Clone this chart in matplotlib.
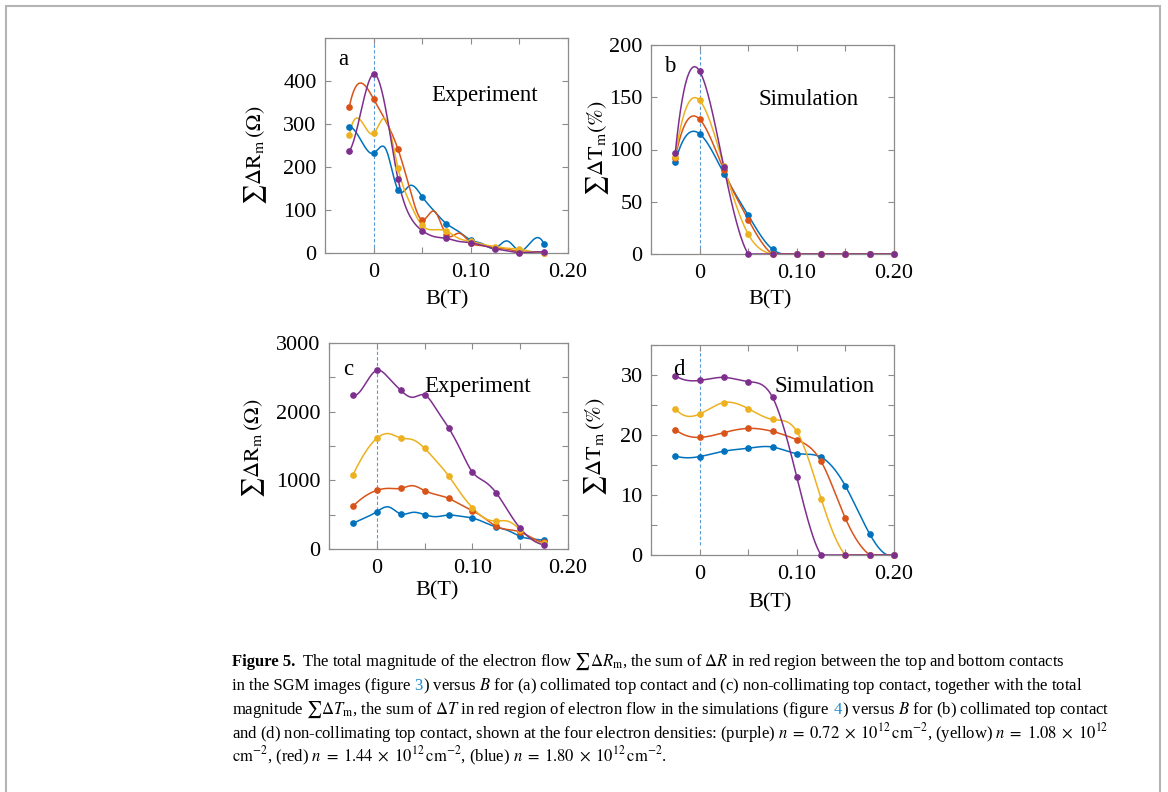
import numpy as np
import matplotlib
matplotlib.use("Agg")
import matplotlib.pyplot as plt
from matplotlib.patches import Rectangle

plt.rcParams['font.family'] = ['Liberation Serif', 'DejaVu Serif']
plt.rcParams['mathtext.fontset'] = 'stix'

# ---------------- data ----------------
# Experiment panels: curve samples every 0.0125 T, markers on every 2nd sample
B_exp = [-0.025, -0.0125, 0.0, 0.0125, 0.025, 0.0375, 0.05, 0.0625, 0.075,
         0.0875, 0.1, 0.1125, 0.125, 0.1375, 0.15, 0.1625, 0.175]

a_blue   = [293, 260, 232, 242, 147, 157, 131, 97, 68, 50, 30, 21, 11, 28, 5, 27, 22]
a_red    = [340, 395, 358, 307, 242, 147, 77, 97, 42, 46, 24, 17, 12, 9, 3, 2, 1]
a_yellow = [274, 306, 278, 311, 198, 116, 64, 54, 51, 34, 27, 20, 15, 11, 9, 3, 0]
a_purple = [237, 334, 416, 334, 173, 85, 52, 38, 34, 27, 24, 17, 10, 5, 1, 2, 2]

c_blue   = [374, 451, 544, 612, 510, 534, 500, 471, 495, 476, 451, 388, 320, 267, 184, 146, 126]
c_red    = [621, 767, 854, 883, 883, 922, 850, 791, 738, 646, 558, 451, 330, 282, 248, 160, 97]
c_yellow = [1078, 1398, 1612, 1680, 1617, 1592, 1466, 1277, 1068, 816, 602, 451, 408, 403, 282, 136, 87]
c_purple = [2238, 2393, 2602, 2490, 2311, 2209, 2243, 2029, 1767, 1447, 1121, 985, 816, 549, 301, 136, 58]

# Simulation panels
B_sim = [-0.025, 0.0, 0.025, 0.05, 0.075, 0.1, 0.125, 0.15, 0.175, 0.2]

b_blue   = [88, 115, 77, 37, 4.5, 0, 0, 0, 0, 0]
b_red    = [92, 129, 80, 33, 0, 0, 0, 0, 0, 0]
b_yellow = [93, 147, 84, 19, 0, 0, 0, 0, 0, 0]
b_purple = [97, 175, 83, 0, 0, 0, 0, 0, 0, 0]

d_blue   = [16.5, 16.4, 17.3, 17.8, 18.0, 16.9, 16.3, 11.5, 3.5, 0]
d_red    = [20.9, 19.6, 20.4, 21.1, 20.6, 19.2, 15.6, 6.1, 0, 0]
d_yellow = [24.4, 23.5, 25.4, 24.4, 22.6, 20.6, 9.4, 0, 0, 0]
d_purple = [29.9, 29.1, 29.6, 28.9, 26.3, 13.0, 0, 0, 0, 0]

colors = {'blue': '#0072BD', 'red': '#D95319', 'yellow': '#EDB120', 'purple': '#7E2F8E'}

xtick_vals = [-0.05, 0.0, 0.05, 0.10, 0.15, 0.20]
xtick_labs = ['', '0', '', '0.10', '', '0.20']


def spline(x, y, n=500):
    """not-a-knot cubic spline (as MATLAB spline) used for the smooth lines"""
    x = np.asarray(x, float); y = np.asarray(y, float)
    N = len(x); h = np.diff(x); d = np.diff(y) / h
    A = np.zeros((N, N)); r = np.zeros(N)
    for i in range(1, N - 1):
        A[i, i - 1] = h[i]; A[i, i] = 2 * (h[i - 1] + h[i]); A[i, i + 1] = h[i - 1]
        r[i] = 3 * (h[i] * d[i - 1] + h[i - 1] * d[i])
    dd = x[2] - x[0]
    A[0, 0] = h[1]; A[0, 1] = dd
    r[0] = ((h[0] + 2 * dd) * h[1] * d[0] + h[0] ** 2 * d[1]) / dd
    dd = x[-1] - x[-3]
    A[-1, -2] = dd; A[-1, -1] = h[-2]
    r[-1] = (h[-1] ** 2 * d[-2] + (2 * dd + h[-1]) * h[-2] * d[-1]) / dd
    s = np.linalg.solve(A, r)
    t = np.linspace(x[0], x[-1], n)
    idx = np.clip(np.searchsorted(x, t) - 1, 0, N - 2)
    hh = h[idx]; u = (t - x[idx]) / hh
    v = (y[idx] * (2 * u**3 - 3 * u**2 + 1) + hh * s[idx] * (u**3 - 2 * u**2 + u)
         + y[idx + 1] * (-2 * u**3 + 3 * u**2) + hh * s[idx + 1] * (u**3 - u**2))
    return t, v


W, H = 1168, 792
fig = plt.figure(figsize=(W / 100, H / 100), dpi=100)


def px_axes(l, r, t, b):
    return fig.add_axes([l / W, 1 - b / H, (r - l) / W, (b - t) / H])


def style(ax, ylim, yticks, ylabs, dash_ymin=0.0):
    ax.set_xlim(-0.05, 0.2)
    ax.set_ylim(*ylim)
    ax.set_xticks(xtick_vals); ax.set_xticklabels(xtick_labs)
    ax.set_yticks(yticks); ax.set_yticklabels(ylabs)
    for sp in ax.spines.values():
        sp.set_color('#8c8c8c'); sp.set_linewidth(0.9)
    ax.tick_params(direction='in', length=4, width=0.8, colors='#8c8c8c',
                   labelcolor='black', top=True, right=True, labelsize=16)
    ax.tick_params(axis='y', pad=6)
    ax.tick_params(axis='x', pad=7)
    ax.axvline(0, ymin=dash_ymin, color='#5b9bd5', lw=0.8, ls=(0, (3, 2)), zorder=1)


def draw(ax, x, series, every, flat_tail=False):
    x = np.asarray(x, float)
    for key, y in series:
        y = np.asarray(y, float)
        t, v = spline(x, y)
        if flat_tail:
            nz = np.nonzero(y)[0]
            k = nz[-1] + 1 if len(nz) else 0
            if k < len(y):
                v = np.where(t >= x[k], 0.0, v)
        ax.plot(t, v, color=colors[key], lw=1.1, zorder=3)
        ax.plot(x[::every], y[::every], 'o', color=colors[key], ms=3.8, zorder=4,
                clip_on=False)


# panel a
ax_a = px_axes(325, 568, 38, 253)
style(ax_a, (0, 500), [0, 100, 200, 300, 400, 500], ['0', '100', '200', '300', '400', ''])
draw(ax_a, B_exp, [('blue', a_blue), ('red', a_red), ('yellow', a_yellow), ('purple', a_purple)], 2)

# panel b
ax_b = px_axes(651, 894, 45, 254)
style(ax_b, (0, 200), [0, 50, 100, 150, 200], ['0', '50', '100', '150', '200'])
draw(ax_b, B_sim, [('blue', b_blue), ('red', b_red), ('yellow', b_yellow), ('purple', b_purple)], 1,
     flat_tail=True)

# panel c
ax_c = px_axes(329, 568, 343, 549)
style(ax_c, (0, 3000), [0, 500, 1000, 1500, 2000, 2500, 3000],
      ['0', '', '1000', '', '2000', '', '3000'])
draw(ax_c, B_exp, [('blue', c_blue), ('red', c_red), ('yellow', c_yellow), ('purple', c_purple)], 2)

# panel d
ax_d = px_axes(651, 894, 345, 555)
style(ax_d, (0, 35), [0, 5, 10, 15, 20, 25, 30, 35], ['0', '', '10', '', '20', '', '30', ''],
      dash_ymin=0.05)
draw(ax_d, B_sim, [('blue', d_blue), ('red', d_red), ('yellow', d_yellow), ('purple', d_purple)], 1,
     flat_tail=True)


def ftext(x, y, s, **kw):
    return fig.text(x / W, 1 - y / H, s, **kw)


# axis labels
ylab_R = r'$\sum\Delta\mathrm{R}_\mathrm{m}\,(\Omega)$'
ftext(256, 155, ylab_R, rotation=90, ha='center', va='center', fontsize=16)
ftext(598, 148, r'$\sum\Delta\mathrm{T}_\mathrm{m}(\%)$', rotation=90, ha='center', va='center', fontsize=16)
ftext(254, 448, ylab_R, rotation=90, ha='center', va='center', fontsize=16)
ftext(596, 447, r'$\sum\Delta\mathrm{T}_\mathrm{m}\,(\%)$', rotation=90, ha='center', va='center', fontsize=16)
for (x, y) in [(447, 300), (770, 300), (437, 591), (770, 603)]:
    ftext(x, y, 'B(T)', ha='center', va='center', fontsize=16)

# panel annotations
ftext(343, 65, 'a', ha='center', va='baseline', fontsize=16.5)
ftext(485, 101, 'Experiment', ha='center', va='baseline', fontsize=16.5)
ftext(670, 72, 'b', ha='center', va='baseline', fontsize=16.5)
ftext(809, 105, 'Simulation', ha='center', va='baseline', fontsize=16.5)
ftext(348, 375, 'c', ha='center', va='baseline', fontsize=16.5)
ftext(478, 392, 'Experiment', ha='center', va='baseline', fontsize=16.5)
ftext(679, 375, 'd', ha='center', va='baseline', fontsize=16.5)
ftext(825, 392, 'Simulation', ha='center', va='baseline', fontsize=16.5)

# outer frame
fig.patches.append(Rectangle((6 / W, -0.02), (1160 - 6) / W, 1 - 6 / H + 0.02,
                             transform=fig.transFigure, fill=False,
                             edgecolor='#b4b4b4', lw=1.5))

# caption
cap_fs = 12
link = '#1b8ad3'
renderer = fig.canvas.get_renderer()


def width_of(s, weight='normal'):
    t = fig.text(0, 0, s, fontsize=cap_fs, weight=weight)
    w = t.get_window_extent(renderer).width
    t.remove()
    return w


space_w = width_of('a a') - width_of('aa')

caption_lines = [
    (666, [('Figure 5.', 'black', 'bold', 0),
           (r'The total magnitude of the electron flow $\sum\Delta R_\mathrm{m}$, the sum of $\Delta R$ in red region between the top and bottom contacts', 'black', 'normal', 1.5)]),
    (690, [('in the SGM images (figure', 'black', 'normal', 0),
           ('3', link, 'normal', 1),
           (r') versus $B$ for (a) collimated top contact and (c) non-collimating top contact, together with the total', 'black', 'normal', 0)]),
    (714, [(r'magnitude $\sum\Delta T_\mathrm{m}$, the sum of $\Delta T$ in red region of electron flow in the simulations (figure', 'black', 'normal', 0),
           ('4', link, 'normal', 1),
           (r') versus $B$ for (b) collimated top contact', 'black', 'normal', 0)]),
    (738, [(r'and (d) non-collimating top contact, shown at the four electron densities: (purple) $n\;=\;0.72\;\times\;10^{12}\,\mathrm{cm}^{-2}$, (yellow) $n\;=\;1.08\;\times\;10^{12}$', 'black', 'normal', 0)]),
    (762, [(r'$\mathrm{cm}^{-2}$, (red) $n\;=\;1.44\;\times\;10^{12}\,\mathrm{cm}^{-2}$, (blue) $n\;=\;1.80\;\times\;10^{12}\,\mathrm{cm}^{-2}$.', 'black', 'normal', 0)]),
]

for y, segs in caption_lines:
    x = 232
    for s, col, wt, gap in segs:
        x += gap * space_w
        t = ftext(x, y, s, color=col, weight=wt, fontsize=cap_fs, ha='left', va='baseline')
        x += t.get_window_extent(renderer).width

fig.savefig('out.png', dpi=100)
